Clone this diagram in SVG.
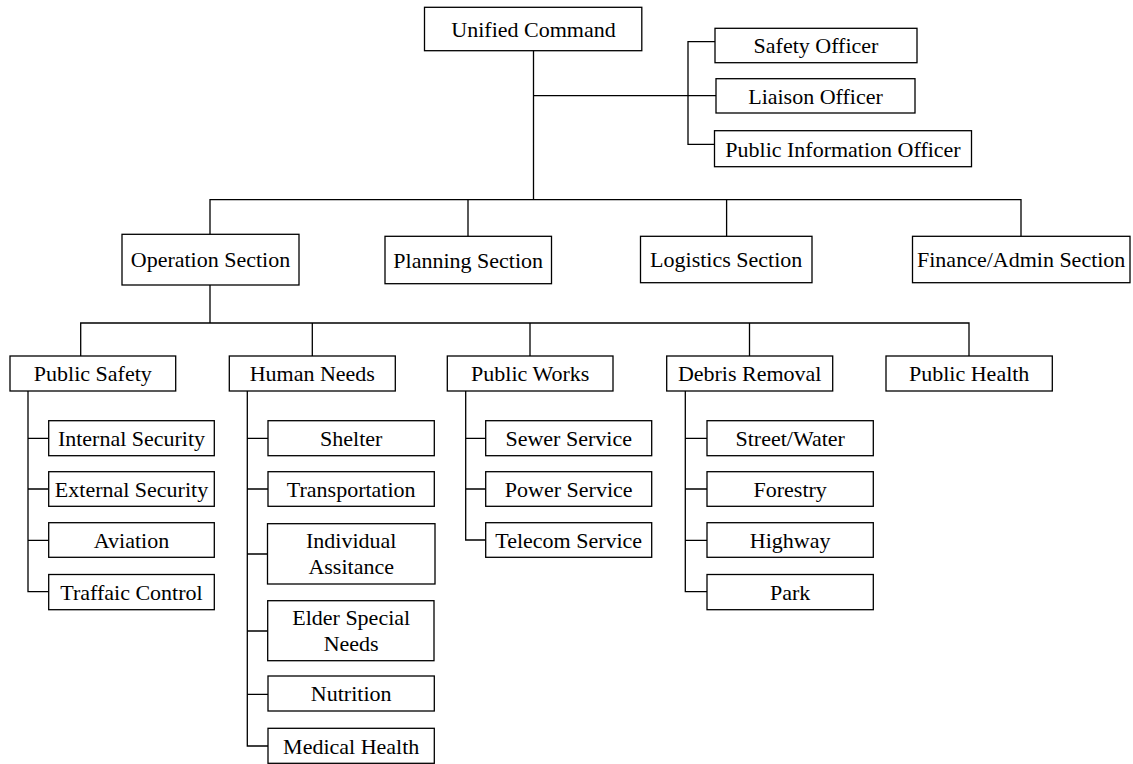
<svg xmlns="http://www.w3.org/2000/svg" width="1133" height="764" viewBox="0 0 1133 764">
<style>
rect{fill:#fff;stroke:#000;stroke-width:1.3}
text{font-family:"Liberation Serif","Times New Roman",serif;font-size:22px;fill:#000;text-anchor:middle}
.c path{fill:none;stroke:#000;stroke-width:1.3}
</style>
<rect x="0" y="0" width="1133" height="764" style="stroke:none"/>
<g class="c" id="connectors">
<path d="M533.5 50.7V199.7M533.5 95.7H716M715 41.7H688V144.3H714.5"/>
<path d="M210 234.3V199.7H1021V236.3M468 199.7V236.3M726.6 199.7V236.3"/>
<path d="M210 285V323M80.7 356V323H969V356M312.3 323V356M530 323V356M749.5 323V356"/>
<path d="M28 391V591.7H48.7M28 438.3H48.7M28 489H48.7M28 540.3H48.7"/>
<path d="M247.3 391V746H268M247.3 438.3H268M247.3 489H268M247.3 554H268M247.3 631H268M247.3 694.3H268"/>
<path d="M465.7 391V540H485.7M465.7 438.3H485.7M465.7 489H485.7"/>
<path d="M685.3 391V591.7H707M685.3 438.3H707M685.3 489H707M685.3 540.3H707"/>
</g>
<g id="unified"><rect x="424.5" y="7.3" width="217.3" height="43.4"/><text x="533.5" y="36.5">Unified Command</text></g>
<g id="safety-officer"><rect x="715" y="28.3" width="202" height="34.4"/><text x="816" y="53.3">Safety Officer</text></g>
<g id="liaison"><rect x="716" y="78.7" width="199" height="34.3"/><text x="815.5" y="103.5">Liaison Officer</text></g>
<g id="pio"><rect x="714.5" y="130.7" width="257" height="36"/><text x="843" y="156.5">Public Information Officer</text></g>
<g id="operation"><rect x="122" y="234.3" width="177" height="50.7"/><text x="210.5" y="267">Operation Section</text></g>
<g id="planning"><rect x="385" y="236.3" width="166.5" height="47.4"/><text x="468.2" y="267.5">Planning Section</text></g>
<g id="logistics"><rect x="640.5" y="236.3" width="171.5" height="46.4"/><text x="726.2" y="267">Logistics Section</text></g>
<g id="finance"><rect x="912.5" y="236.3" width="217.5" height="46.4"/><text x="1021.2" y="267">Finance/Admin Section</text></g>
<g id="public-safety"><rect x="10" y="356" width="165.7" height="35"/><text x="92.8" y="381">Public Safety</text></g>
<g id="human-needs"><rect x="229.3" y="356" width="166" height="35"/><text x="312.3" y="381">Human Needs</text></g>
<g id="public-works"><rect x="447.3" y="356" width="165.7" height="35"/><text x="530.2" y="381">Public Works</text></g>
<g id="debris"><rect x="666.7" y="356" width="166" height="35"/><text x="749.7" y="381">Debris Removal</text></g>
<g id="public-health"><rect x="886" y="356" width="166.3" height="35"/><text x="969.2" y="381">Public Health</text></g>
<g id="internal"><rect x="48.7" y="420.7" width="165.6" height="35"/><text x="131.5" y="446">Internal Security</text></g>
<g id="external"><rect x="48.7" y="471.7" width="165.6" height="34.6"/><text x="131.5" y="496.8">External Security</text></g>
<g id="aviation"><rect x="48.7" y="522.7" width="165.6" height="34.6"/><text x="131.5" y="547.8">Aviation</text></g>
<g id="traffic"><rect x="48.7" y="574.5" width="165.6" height="35.2"/><text x="131.5" y="599.5">Traffaic Control</text></g>
<g id="shelter"><rect x="268" y="420.7" width="166.3" height="35"/><text x="351.2" y="446">Shelter</text></g>
<g id="transportation"><rect x="268" y="471.7" width="166.3" height="34.6"/><text x="351.2" y="496.8">Transportation</text></g>
<g id="individual"><rect x="267.5" y="523.7" width="167.5" height="60.3"/><text x="351.2" y="548.3">Individual</text><text x="351.2" y="574.3">Assitance</text></g>
<g id="elder"><rect x="267.7" y="600.7" width="166.3" height="60"/><text x="351.2" y="625">Elder Special</text><text x="351.2" y="651">Needs</text></g>
<g id="nutrition"><rect x="268" y="676" width="166.3" height="35"/><text x="351.2" y="701.3">Nutrition</text></g>
<g id="medical"><rect x="268" y="728.3" width="166.3" height="35"/><text x="351.2" y="753.6">Medical Health</text></g>
<g id="sewer"><rect x="485.7" y="420.7" width="166" height="35"/><text x="568.7" y="446">Sewer Service</text></g>
<g id="power"><rect x="485.7" y="471.7" width="166" height="34.6"/><text x="568.7" y="496.8">Power Service</text></g>
<g id="telecom"><rect x="485.7" y="522.7" width="166" height="34.6"/><text x="568.7" y="547.8">Telecom Service</text></g>
<g id="street"><rect x="707" y="420.7" width="166.3" height="35"/><text x="790.2" y="446">Street/Water</text></g>
<g id="forestry"><rect x="707" y="471.7" width="166.3" height="34.6"/><text x="790.2" y="496.8">Forestry</text></g>
<g id="highway"><rect x="707" y="522.7" width="166.3" height="34.6"/><text x="790.2" y="547.8">Highway</text></g>
<g id="park"><rect x="707" y="574.5" width="166.3" height="35.2"/><text x="790.2" y="599.5">Park</text></g>
</svg>
